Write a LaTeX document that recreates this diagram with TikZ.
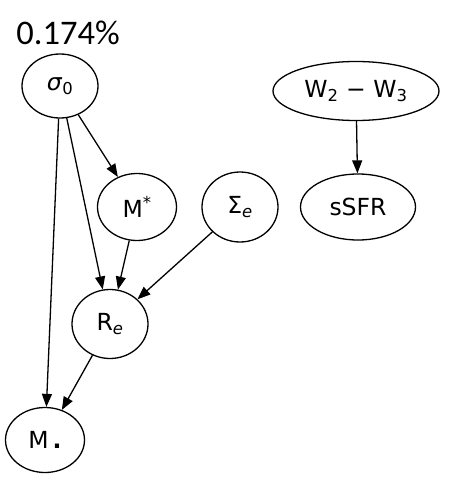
\documentclass[tikz,border=0pt]{standalone}
\usepackage{fontspec}
\setmainfont{DejaVu Sans}
\newfontfamily\pctfont{Carlito}
\usetikzlibrary{arrows.meta,shapes.geometric}

\begin{document}
\begin{tikzpicture}[
  x=1pt,y=-1pt,
  var/.style={ellipse,draw,line width=1.3pt,inner sep=0pt,font=\fontsize{23.5}{27}\selectfont},
  arrow/.style={-{Triangle[length=13pt,width=10pt]},line width=1.3pt}
]
\useasboundingbox (0,0) rectangle (450,479);
\node[font=\pctfont\fontsize{34.5}{38}\selectfont] (pct) at (68,33) {0.174\%};
\node[var,minimum width=76,minimum height=64] (sig) at (60,86) {\textit{σ}\textsubscript{0}};
\node[var,minimum width=79,minimum height=67] (mstar) at (137,207) {M\textsuperscript{*}};
\node[var,minimum width=76,minimum height=70] (sige) at (240,207) {Σ\textsubscript{\itshape e}};
\node[var,minimum width=166,minimum height=59] (wcol) at (356,91) {W\textsubscript{2} − W\textsubscript{3}};
\node[var,minimum width=115,minimum height=66] (ssfr) at (358,207) {sSFR};
\node[var,minimum width=76,minimum height=69] (re) at (110,324) {R\textsubscript{\itshape e}};
\node[var,minimum width=79,minimum height=65] (mbh) at (45,440) {M\,\textbf{.}};
\draw[arrow] (sig) -- (mstar);
\draw[arrow] (sig) -- (re);
\draw[arrow] (sig) -- (mbh);
\draw[arrow] (mstar) -- (re);
\draw[arrow] (sige) -- (re);
\draw[arrow] (re) -- (mbh);
\draw[arrow] (wcol) -- (ssfr);
\end{tikzpicture}
\end{document}
